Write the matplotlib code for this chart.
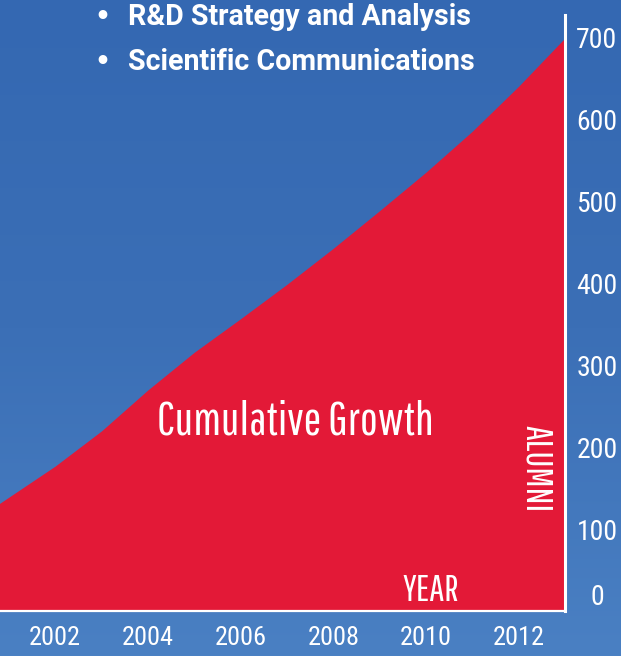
import numpy as np
import matplotlib.pyplot as plt
from matplotlib.colors import LinearSegmentedColormap

# cumulative alumni count per year
years = [2000, 2001, 2002, 2003, 2004, 2005, 2006, 2007, 2008, 2009, 2010, 2011, 2012, 2013]
alumni = [101, 139, 177, 220, 270, 316, 357, 399, 443, 489, 536, 586, 641, 700]

xtick_years = [2002, 2004, 2006, 2008, 2010, 2012]
ytick_vals = [0, 100, 200, 300, 400, 500, 600, 700]
bullets = ['R&D Strategy and Analysis', 'Scientific Communications']

BLUE = '#3a6db4'
RED = '#e31937'
COND = ['Roboto Condensed', 'DejaVu Sans']
GOTHIC = ['Pathway Gothic One', 'DejaVu Sans']
BOLD = ['Roboto', 'DejaVu Sans']

fig = plt.figure(figsize=(6.21, 6.56), dpi=100)
fig.patch.set_facecolor(BLUE)

# soft vertical gradient behind everything (darker at top)
bg = fig.add_axes([0, 0, 1, 1], zorder=0)
grad = LinearSegmentedColormap.from_list('bg', ['#3468b2', '#3b6fb6', '#4a80c3'])
bg.imshow(np.linspace(0, 1, 256).reshape(-1, 1), aspect='auto', cmap=grad,
          extent=[0, 1, 0, 1], origin='upper')
bg.axis('off')

# axes spans from left edge to the white axis line at x=565px
ax = fig.add_axes([0, 45 / 656, 565 / 621, (611 - 15) / 656], zorder=1)
ax.patch.set_alpha(0)

ax.fill_between(years, alumni, 0, color=RED, linewidth=0, zorder=2)

ax.set_xlim(2000.81, 2013)
ax.set_ylim(0, 728)

# only bottom and right spines, in white
for side in ['top', 'left']:
    ax.spines[side].set_visible(False)
ax.spines['right'].set_color('white')
ax.spines['right'].set_linewidth(2.2)
ax.spines['bottom'].set_color('white')
ax.spines['bottom'].set_linewidth(1.6)
ax.spines['right'].set_zorder(3)
ax.spines['bottom'].set_zorder(3)

ax.set_xticks(xtick_years)
ax.set_xticklabels([str(y) for y in xtick_years], color='white', fontsize=19, family=COND)
ax.tick_params(axis='x', length=0, pad=11)

ax.yaxis.tick_right()
ax.set_yticks(ytick_vals)
ax.set_yticklabels([str(v) for v in ytick_vals], color='white', fontsize=20, family=COND)
ax.tick_params(axis='y', length=0, pad=23)
for lbl in ax.get_yticklabels():
    lbl.set_horizontalalignment('center')
ax.get_yticklabels()[0].set_verticalalignment('bottom')

# labels inside the chart
ax.text(0.523, 0.318, 'Cumulative Growth', transform=ax.transAxes, color='white',
        fontsize=34, family=GOTHIC, ha='center', va='center', zorder=4)
ax.text(0.95, 0.239, 'ALUMNI', transform=ax.transAxes, color='white',
        fontsize=27, family=GOTHIC, rotation=-90, ha='center', va='center', zorder=4)
ax.text(0.763, 0.034, 'YEAR', transform=ax.transAxes, color='white',
        fontsize=27, family=GOTHIC, ha='center', va='center', zorder=4)

# bullet list at top
for i, line in enumerate(bullets):
    y = 1 - (17 + 45 * i) / 656
    fig.text(102 / 621, y, '\u2022', color='white', fontsize=18, fontweight='bold',
             ha='center', va='center', zorder=5)
    fig.text(128 / 621, y, line, color='white', fontsize=20.6, fontweight='bold',
             family=BOLD, ha='left', va='center', zorder=5)

fig.savefig('out.png', dpi=100, facecolor=BLUE)
